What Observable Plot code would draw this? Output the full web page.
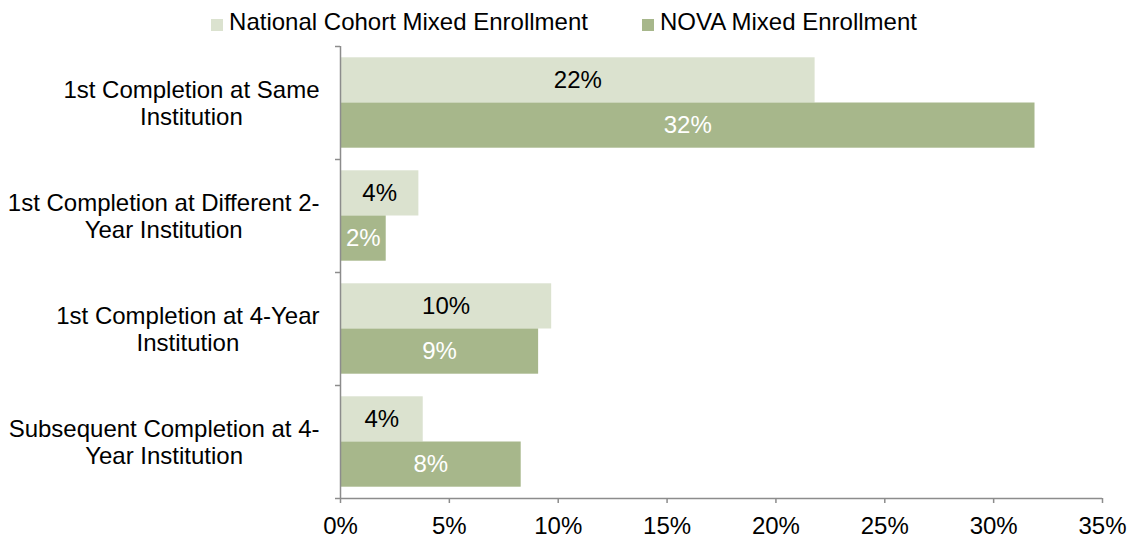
<!DOCTYPE html>
<html><head><meta charset="utf-8">
<script src="https://cdn.jsdelivr.net/npm/d3@7"></script>
<script src="https://cdn.jsdelivr.net/npm/@observablehq/plot@0.6"></script>
<style>
body{margin:0;background:#fff;font-family:"Liberation Sans",Arial,sans-serif;overflow:hidden;}
#legend{height:40px;display:flex;justify-content:center;align-items:center;gap:54px;font-size:24px;color:#000;padding-top:4px;box-sizing:border-box;}
.item{display:flex;align-items:center;white-space:nowrap;}
.sw{width:12px;height:12px;margin-right:6px;margin-top:5px;}
</style></head><body>
<div id="legend"></div><div id="chart"></div>
<script>
const categories = [
  "1st Completion at Same\nInstitution",
  "1st Completion at Different 2-\nYear Institution",
  "1st Completion at 4-Year\nInstitution",
  "Subsequent Completion at 4-\nYear Institution"
];
const seriesNames = ["National Cohort Mixed Enrollment", "NOVA Mixed Enrollment"];
const nationalValues = [21.8, 3.6, 9.7, 3.8];
const novaValues = [31.9, 2.1, 9.1, 8.3];
const xTicks = [0, 5, 10, 15, 20, 25, 30, 35];
const seriesColors = ["#dbe2cf", "#a7b78b"];
const labelColors = ["#000000", "#ffffff"];

const FS = 24;
const FONT = '"Liberation Sans", Arial, sans-serif';
const gray = "#8c8c8c";
const seriesValues = [nationalValues, novaValues];

// legend
const legend = document.getElementById("legend");
seriesNames.forEach((name, s) => {
  const it = document.createElement("div"); it.className = "item";
  const sw = document.createElement("div"); sw.className = "sw"; sw.style.background = seriesColors[s];
  const t = document.createElement("span"); t.textContent = name;
  it.appendChild(sw); it.appendChild(t); legend.appendChild(it);
});

// rows: each series occupies half of a 0.8-wide band around the category index
const rows = [];
categories.forEach((c, i) => {
  seriesValues.forEach((vals, s) => {
    rows.push({cat: c, i, series: seriesNames[s], s, v: vals[i], y1: i - 0.4 + s * 0.4, y2: i + s * 0.4});
  });
});

// measure label widths so multi-line labels are centered, right edge aligned
const ctx = document.createElement("canvas").getContext("2d");
ctx.font = `${FS}px "Liberation Sans"`;
const labelWidths = categories.map(c => d3.max(c.split("\n"), l => ctx.measureText(l).width));

const boundaries = d3.range(categories.length + 1).map(k => k - 0.5);

const chart = Plot.plot({
  width: 1128, height: 499,
  marginLeft: 340, marginRight: 26, marginTop: 6, marginBottom: 41,
  style: {fontFamily: FONT, fontSize: FS + "px", background: "#fff", color: "#000"},
  x: {domain: [0, 35]},
  y: {domain: [-0.5, categories.length - 0.5], reverse: true},
  color: {domain: seriesNames, range: seriesColors},
  marks: [
    Plot.rectX(rows, {x1: 0, x2: "v", y1: "y1", y2: "y2", fill: "series"}),
    ...[0, 1].map(s => Plot.text(rows.filter(d => d.s === s), {
      x: d => d.v / 2, y: d => (d.y1 + d.y2) / 2, text: d => Math.round(d.v) + "%",
      fill: labelColors[s], fontSize: FS
    })),
    Plot.ruleX([0], {stroke: gray, strokeWidth: 1.5}),
    Plot.ruleY([categories.length - 0.5], {stroke: gray, strokeWidth: 1.5}),
    Plot.axisX({ticks: xTicks, tickFormat: d => d + "%", tickSize: 5, tickPadding: 13,
      stroke: gray, strokeWidth: 1.5, fill: "#000", fontSize: FS, label: null}),
    Plot.axisY({ticks: boundaries, tickFormat: () => "", tickSize: 5, stroke: gray, strokeWidth: 1.5, label: null}),
    ...categories.map((c, i) => Plot.axisY({
      ticks: [i], tickFormat: () => c, tickSize: 0, tickPadding: 21 + labelWidths[i] / 2,
      textAnchor: "middle", lineHeight: 1.1, fill: "#000", fontSize: FS, label: null
    }))
  ]
});
document.getElementById("chart").appendChild(chart);
</script>
</body></html>
